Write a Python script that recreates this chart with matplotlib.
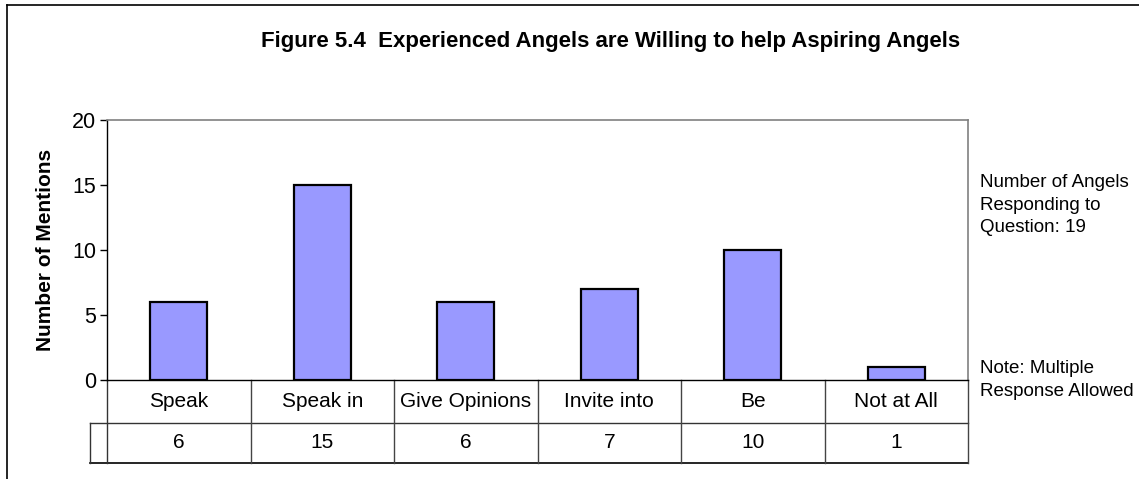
import matplotlib
matplotlib.use("Agg")
import matplotlib.pyplot as plt

plt.rcParams['font.family'] = ['Liberation Sans', 'DejaVu Sans']

# chart data
categories = ["Speak", "Speak in", "Give Opinions", "Invite into", "Be", "Not at All"]
mentions = [6, 15, 6, 7, 10, 1]
y_ticks = [0, 5, 10, 15, 20]

title = "Figure 5.4  Experienced Angels are Willing to help Aspiring Angels"
side_note_top = "Number of Angels\nResponding to\nQuestion: 19"
side_note_bottom = "Note: Multiple\nResponse Allowed"

W, H = 1139, 479
fig = plt.figure(figsize=(W / 100, H / 100), dpi=100)


def fx(px):
    return px / W


def fy(py):
    return 1 - py / H


# plot area in pixels
left, right, top, bottom = 107, 968, 120, 380
ax = fig.add_axes([fx(left), fy(bottom), fx(right - left), (bottom - top) / H])

x = list(range(len(categories)))
ax.bar(x, mentions, width=0.4, color="#9999FF", edgecolor="black", linewidth=1.6, zorder=3)
ax.set_xlim(-0.5, len(categories) - 0.5)
ax.set_ylim(0, 20)
ax.set_yticks(y_ticks)
ax.set_xticks([])
ax.tick_params(axis="y", direction="out", length=5, width=1, labelsize=15.5, pad=3)
for s in ["top", "right"]:
    ax.spines[s].set_color("#808080")
    ax.spines[s].set_linewidth(1.2)
for s in ["left", "bottom"]:
    ax.spines[s].set_color("black")
    ax.spines[s].set_linewidth(1.0)

ax.set_ylabel("Number of Mentions", fontsize=15, fontweight="bold", labelpad=12)

# data table under the axis
tr = ax.get_xaxis_transform()
axh = bottom - top
row1 = -(423 - bottom) / axh
row2 = -(463 - bottom) / axh
x0, x1 = -0.5, len(categories) - 0.5
stub = x0 - (107 - 90) / ((right - left) / len(categories))

ax.plot([stub, x1], [row1, row1], color="#333333", lw=1.0, transform=tr, clip_on=False)
ax.plot([stub, x1], [row2, row2], color="black", lw=1.2, transform=tr, clip_on=False)
ax.plot([stub, stub], [row1, row2], color="#333333", lw=1.0, transform=tr, clip_on=False)
ax.plot([x0, x0], [0, row2], color="#333333", lw=1.0, transform=tr, clip_on=False)
for i in range(len(categories)):
    xb = i + 0.5
    ax.plot([xb, xb], [0, row2], color="#444444", lw=1.0, transform=tr, clip_on=False)
    ax.text(i, row1 / 2, categories[i], transform=tr, ha="center", va="center", fontsize=15)
    ax.text(i, (row1 + row2) / 2, str(mentions[i]), transform=tr, ha="center", va="center", fontsize=15)

# title and side notes
fig.text(fx(611), fy(42), title, ha="center", va="center", fontsize=16, fontweight="bold")
fig.text(fx(980), fy(205), side_note_top, ha="left", va="center", fontsize=13.5, linespacing=1.4)
fig.text(fx(980), fy(380), side_note_bottom, ha="left", va="center", fontsize=13.5, linespacing=1.4)

# outer frame (runs off the right and bottom edges)
fig.add_artist(plt.Line2D([fx(7), 1.0], [fy(5), fy(5)], color="black", lw=1.2))
fig.add_artist(plt.Line2D([fx(7), fx(7)], [fy(5), 0.0], color="black", lw=1.2))

fig.savefig("out.png", dpi=100)
